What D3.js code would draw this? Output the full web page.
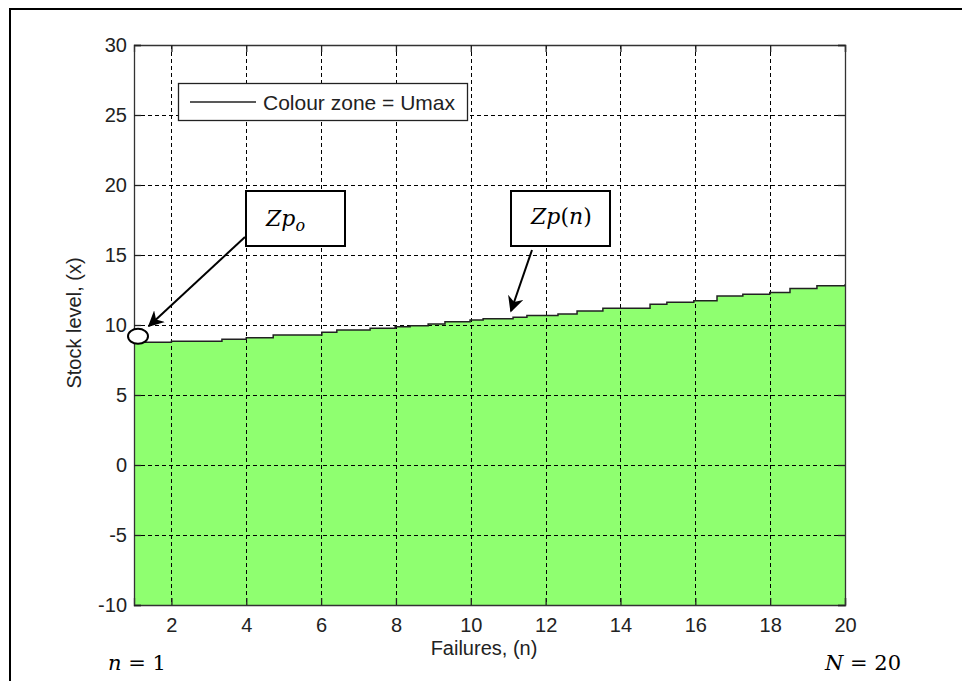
<!DOCTYPE html>
<html><head><meta charset="utf-8">
<script src="https://cdn.jsdelivr.net/npm/d3@7"></script>
<style>body{margin:0;background:#fff;}svg{display:block;}</style>
</head><body>
<svg id="c" width="962" height="681"></svg>
<script>
// Data
const failures = [1.0, 2.0, 3.35, 4.0, 4.72, 6.02, 6.42, 7.31, 7.98, 8.38, 8.86, 9.31, 9.98, 10.33, 11.13, 11.5, 12.33, 12.84, 13.53, 14.79, 15.24, 15.96, 16.58, 17.27, 17.99, 18.53, 19.25, 20.0];
const stockLevel = [8.76, 8.84, 8.98, 9.09, 9.29, 9.48, 9.64, 9.76, 9.88, 9.95, 10.07, 10.24, 10.36, 10.45, 10.55, 10.67, 10.79, 11.0, 11.19, 11.48, 11.62, 11.74, 12.07, 12.19, 12.33, 12.61, 12.81, 12.91];
const xTicks = [2, 4, 6, 8, 10, 12, 14, 16, 18, 20];
const yTicks = [-10, -5, 0, 5, 10, 15, 20, 25, 30];
const legendLabel = "Colour zone = Umax";
const xLabel = "Failures, (n)";
const yLabel = "Stock level, (x)";

const svg = d3.select("#c");
const sans = "Liberation Sans, Arial, sans-serif";
const serif = "DejaVu Serif, Cambria Math, Liberation Serif, serif";
const L = 134, R = 845, T = 45, B = 605;
const x = d3.scaleLinear().domain([1, 20]).range([L, R]);
const y = d3.scaleLinear().domain([-10, 30]).range([B, T]);
const data = failures.map((n, i) => ({n, v: stockLevel[i]}));

// outer frame
svg.append("line").attr("x1", 9).attr("x2", 962).attr("y1", 9).attr("y2", 9).attr("stroke", "#000").attr("stroke-width", 2);
svg.append("line").attr("x1", 10).attr("x2", 10).attr("y1", 8).attr("y2", 681).attr("stroke", "#000").attr("stroke-width", 2);

// area
svg.append("path").datum(data)
  .attr("d", d3.area().x(d => x(d.n)).y0(y(-10)).y1(d => y(d.v)).curve(d3.curveStepAfter))
  .attr("fill", "#8fff70");

// grid
const g = svg.append("g").attr("stroke", "#000").attr("stroke-width", 1).attr("stroke-dasharray", "4,3");
xTicks.filter(t => t < 20).forEach(t => g.append("line").attr("x1", Math.round(x(t)) + 0.5).attr("x2", Math.round(x(t)) + 0.5).attr("y1", T).attr("y2", B));
yTicks.filter(t => t > -10 && t < 30).forEach(t => g.append("line").attr("y1", Math.round(y(t)) + 0.5).attr("y2", Math.round(y(t)) + 0.5).attr("x1", L).attr("x2", R));

// boundary line
svg.append("path").datum(data)
  .attr("d", d3.line().x(d => x(d.n)).y(d => y(d.v)).curve(d3.curveStepAfter))
  .attr("fill", "none").attr("stroke", "#222").attr("stroke-width", 1.5);

// axes
const fmt = d => String(d);
const xb = svg.append("g").attr("transform", `translate(0,${B})`)
  .call(d3.axisBottom(x).tickValues(xTicks).tickSize(-7).tickPadding(13).tickFormat(fmt));
const xt = svg.append("g").attr("transform", `translate(0,${T})`)
  .call(d3.axisTop(x).tickValues(xTicks).tickSize(-7).tickFormat(""));
const yl = svg.append("g").attr("transform", `translate(${L},0)`)
  .call(d3.axisLeft(y).tickValues(yTicks).tickSize(-7).tickPadding(7).tickFormat(fmt));
const yr = svg.append("g").attr("transform", `translate(${R},0)`)
  .call(d3.axisRight(y).tickValues(yTicks).tickSize(-7).tickFormat(""));
[xb, xt, yl, yr].forEach(a => {
  a.selectAll("path.domain").attr("stroke", "#333").attr("stroke-width", 1.3);
  a.selectAll(".tick line").attr("stroke", "#222").attr("stroke-width", 1.3);
  a.selectAll("text").style("font-family", sans).style("font-size", "20px").attr("fill", "#222");
});

// legend
svg.append("rect").attr("x", 178.5).attr("y", 83.5).attr("width", 289).attr("height", 37).attr("fill", "#fff").attr("stroke", "#222").attr("stroke-width", 1.3);
svg.append("line").attr("x1", 190).attr("x2", 256).attr("y1", 102).attr("y2", 102).attr("stroke", "#222").attr("stroke-width", 1.3);
svg.append("text").attr("x", 263).attr("y", 110).text(legendLabel)
  .style("font-family", sans).style("font-size", "21px").attr("fill", "#222");

// axis labels
svg.append("text").attr("x", 484).attr("y", 655).attr("text-anchor", "middle").text(xLabel)
  .style("font-family", sans).style("font-size", "20px").attr("fill", "#222");
svg.append("text").attr("transform", "translate(81,323) rotate(-90)").attr("text-anchor", "middle").text(yLabel)
  .style("font-family", sans).style("font-size", "20px").attr("fill", "#222");

// arrow marker
svg.append("defs").append("marker").attr("id", "ah").attr("viewBox", "0 0 10 10").attr("refX", 9).attr("refY", 5)
  .attr("markerWidth", 16).attr("markerHeight", 16).attr("markerUnits", "userSpaceOnUse").attr("orient", "auto")
  .append("path").attr("d", "M0,0 L10,5 L0,10 L3,5 Z").attr("fill", "#000");

// annotation boxes
svg.append("rect").attr("x", 246).attr("y", 191).attr("width", 99).attr("height", 55).attr("fill", "#fff").attr("stroke", "#000").attr("stroke-width", 2);
const t1 = svg.append("text").attr("x", 266).attr("y", 226).style("font-family", serif).style("font-size", "22px").attr("font-style", "italic").attr("fill", "#000");
t1.append("tspan").text("Zp");
t1.append("tspan").attr("dy", 5).style("font-size", "16px").text("o");

svg.append("rect").attr("x", 511).attr("y", 191).attr("width", 99).attr("height", 55).attr("fill", "#fff").attr("stroke", "#000").attr("stroke-width", 2);
const t2 = svg.append("text").attr("x", 531).attr("y", 224).style("font-family", serif).style("font-size", "22px").attr("fill", "#000");
t2.append("tspan").attr("font-style", "italic").text("Zp");
t2.append("tspan").text("(");
t2.append("tspan").attr("font-style", "italic").text("n");
t2.append("tspan").text(")");

// arrows
svg.append("line").attr("x1", 245).attr("y1", 237).attr("x2", 149).attr("y2", 326).attr("stroke", "#000").attr("stroke-width", 2).attr("marker-end", "url(#ah)");
svg.append("line").attr("x1", 532).attr("y1", 250).attr("x2", 511).attr("y2", 311).attr("stroke", "#000").attr("stroke-width", 2).attr("marker-end", "url(#ah)");

// ellipse at Zp_o
svg.append("ellipse").attr("cx", x(failures[0]) + 4).attr("cy", y(stockLevel[0]) - 6).attr("rx", 10).attr("ry", 7.5)
  .attr("fill", "#fff").attr("stroke", "#000").attr("stroke-width", 2);

// n = 1, N = 20
const t3 = svg.append("text").attr("x", 108).attr("y", 670).style("font-family", serif).style("font-size", "21px").attr("fill", "#000");
t3.append("tspan").attr("font-style", "italic").text("n");
t3.append("tspan").text(" = 1");
const t4 = svg.append("text").attr("x", 825).attr("y", 670).style("font-family", serif).style("font-size", "21px").attr("fill", "#000");
t4.append("tspan").attr("font-style", "italic").text("N");
t4.append("tspan").text(" = 20");
</script>
</body></html>
